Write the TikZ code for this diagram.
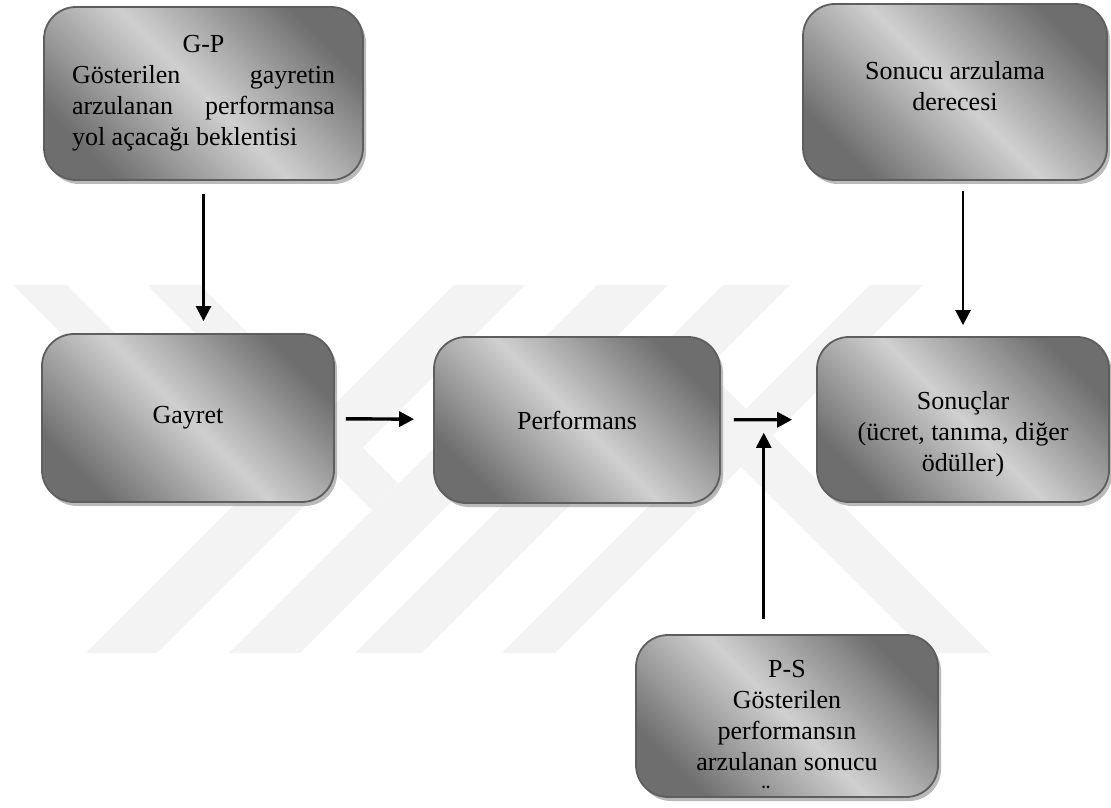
\documentclass[tikz,border=0pt]{standalone}
\usepackage{fontspec}
\setmainfont{Liberation Serif}
\usetikzlibrary{arrows.meta, calc, shadows}
\definecolor{boxdark}{HTML}{6E6E6E}
\definecolor{boxlight}{HTML}{D0D0D0}
\definecolor{boxline}{HTML}{5E5E5E}
\definecolor{wmark}{HTML}{F3F3F3}

\begin{document}
\begin{tikzpicture}[x=0.5pt, y=-0.5pt,
    box/.style={draw=boxline, line width=0.9pt, rounded corners=16pt,
        top color=boxdark, bottom color=boxdark, middle color=boxlight, shading angle=-45,
        drop shadow={shadow xshift=1.5pt, shadow yshift=-2pt, fill=black!45, opacity=0.6},
        font=\fontsize{13}{15.5}\selectfont, align=center, inner sep=0pt},
    arr/.style={-{Triangle[length=7.5pt, width=7.5pt]}, line width=1.3pt},
    stripe/.style={fill=wmark, draw=none},
]
    \useasboundingbox (0,0) rectangle (1111,807);

    % watermark
    \foreach \a/\b in {454/525, 597/668, 723/790, 870/923}
        \fill[stripe] (\a,285) -- (\b,285) -- (\b-368,653) -- (\a-368,653) -- cycle;
    \fill[stripe] (13,285) -- (67,285) -- (260.5,478.5) -- (233.5,505.5) -- cycle;
    \fill[stripe] (147,285) -- (200,285) -- (398.5,483.5) -- (372,510) -- cycle;
    \fill[stripe] (641,367) -- (672.5,335.5) -- (990,653) -- (927,653) -- cycle;

    \node[box, minimum width=159.5pt, minimum height=86.5pt, text width=131.5pt, align=justify] (gp) at (203.5,93.5)
        {\hyphenpenalty=10000 \hfil G-P\hfil\break Gösterilen gayretin\linebreak arzulanan performansa\linebreak yol açacağı beklentisi};
    \node[box, minimum width=152pt, minimum height=88pt] (des) at (955,92)
        {Sonucu arzulama\\derecesi\rule[-6pt]{0pt}{0pt}};
    \node[box, minimum width=146pt, minimum height=84pt] (gay) at (188,418) {Gayret};
    \node[box, minimum width=143pt, minimum height=83pt] (perf) at (577,420) {Performans};
    \node[box, minimum width=146pt, minimum height=82.5pt] (son) at (963,419.5)
        {\rule{0pt}{24pt}Sonuçlar\\(ücret, tanıma, diğer\\ödüller)};
    \node[box, minimum width=151pt, minimum height=81pt] (ps) at (787,716)
        {P-S\\Gösterilen\\performansın\\arzulanan sonucu};
    \node[font=\fontsize{13}{15.5}\selectfont, inner sep=0pt] (psdots) at (766,794) {¨};

    \draw[arr, shorten <=6.5pt, shorten >=6pt] (gp.south) -- (gp.south |- gay.north);
    \draw[arr, shorten <=5pt, shorten >=5.5pt] (des.south -| son.north) -- (son.north);
    \draw[arr, line width=1.7pt, shorten <=5.5pt, shorten >=9.5pt] (gay) -- (perf);
    \draw[arr, line width=1.7pt, shorten <=6.5pt, shorten >=12pt] (perf) -- (son);
    \coordinate (junc) at ($(perf.east)!0.45!(son.west)$);
    \draw[arr, shorten <=7.5pt, shorten >=6.5pt] (ps.north -| junc) -- (junc);
\end{tikzpicture}
\end{document}
